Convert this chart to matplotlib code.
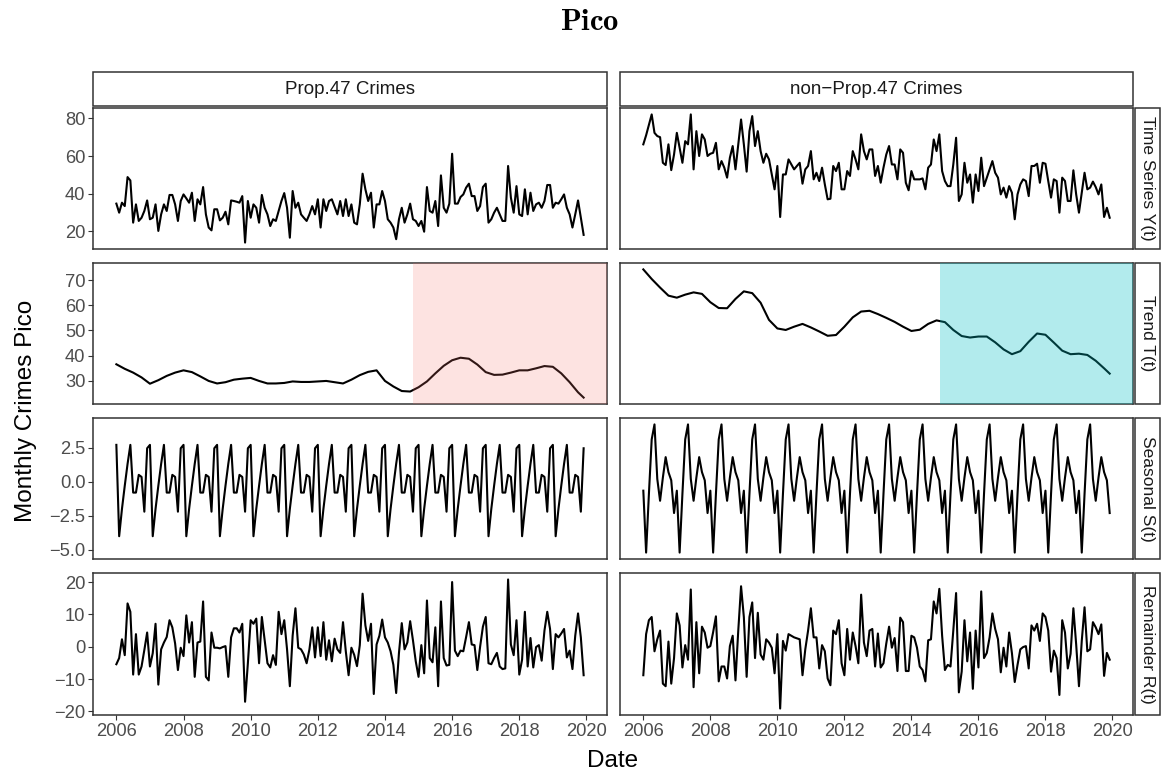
import numpy as np
import matplotlib
matplotlib.use("Agg")
import matplotlib.pyplot as plt
from matplotlib.patches import Rectangle
from matplotlib.ticker import FuncFormatter

plt.rcParams['font.family'] = ['Liberation Sans', 'DejaVu Sans']
plt.rcParams['mathtext.fontset'] = 'cm'

# ---------------- data ----------------
start_year = 2006
columns = ["Prop.47 Crimes", "non\u2212Prop.47 Crimes"]
rows = ["Time Series Y(t)", "Trend T(t)", "Seasonal S(t)", "Remainder R(t)"]

p47_Y = [
    34.7, 29.9, 35.2, 33.4, 48.8, 47.0, 24.6, 34.3, 25.5, 27.2, 30.8, 36.4,
    26.4, 27.2, 34.3, 20.2, 29.0, 34.3, 30.8, 39.3, 39.3, 34.3, 25.5, 36.1,
    39.6, 37.5, 35.2, 40.5, 25.5, 37.0, 34.3, 43.5, 29.0, 22.0, 20.5, 31.7,
    31.7, 25.8, 27.2, 30.4, 23.7, 36.4, 36.1, 35.7, 35.2, 38.7, 14.0, 36.1,
    27.2, 34.3, 32.5, 24.6, 39.3, 32.5, 29.0, 22.8, 26.4, 25.5, 30.8, 36.1,
    40.3, 32.5, 16.6, 41.4, 32.5, 35.2, 29.0, 27.2, 25.5, 29.0, 33.4, 29.0,
    37.0, 22.0, 37.0, 30.8, 36.1, 37.0, 33.0, 29.0, 36.1, 28.1, 37.0, 28.1,
    34.3, 24.6, 23.7, 34.3, 50.6, 42.3, 36.1, 40.5, 22.0, 34.3, 34.3, 41.4,
    36.1, 26.4, 24.6, 22.0, 15.8, 26.4, 32.5, 24.6, 29.0, 34.7, 26.4, 25.5,
    22.8, 25.5, 19.8, 43.5, 30.8, 29.9, 36.1, 22.8, 49.7, 32.5, 29.9, 34.7,
    61.2, 34.7, 34.7, 38.2, 39.6, 43.2, 45.3, 38.7, 38.7, 30.8, 33.4, 43.5,
    45.3, 24.6, 26.4, 29.9, 32.5, 29.0, 25.5, 25.5, 54.7, 37.9, 29.9, 44.0,
    29.0, 28.1, 42.3, 29.0, 40.5, 30.8, 34.3, 35.2, 32.5, 36.1, 44.6, 44.6,
    32.5, 35.2, 34.7, 37.0, 39.6, 32.5, 29.0, 22.0, 29.0, 36.4, 27.2, 18.1,
]
non_Y = [
    66.2, 71.0, 76.5, 82.1, 72.3, 70.6, 70.0, 56.4, 55.2, 66.2, 52.5, 60.8,
    72.3, 64.4, 56.4, 67.9, 66.2, 82.1, 52.9, 73.2, 60.0, 71.5, 68.8, 60.0,
    61.2, 61.7, 67.0, 52.9, 57.3, 53.8, 48.5, 59.1, 65.3, 52.9, 66.2, 79.4,
    66.2, 51.7, 73.2, 81.2, 65.3, 73.2, 62.6, 56.4, 61.2, 58.2, 50.2, 42.3,
    54.7, 27.6, 50.2, 50.2, 58.2, 55.5, 52.9, 54.7, 56.4, 45.3, 52.9, 54.7,
    62.6, 47.6, 51.1, 46.7, 53.8, 44.9, 37.0, 37.3, 54.7, 52.0, 56.4, 42.3,
    42.3, 52.0, 49.4, 62.6, 58.2, 52.9, 71.5, 62.6, 58.2, 63.5, 63.5, 49.4,
    54.7, 45.8, 53.8, 60.8, 65.3, 55.5, 55.5, 47.6, 63.5, 61.7, 45.8, 41.8,
    52.0, 47.6, 47.6, 47.6, 48.1, 42.3, 53.8, 55.5, 68.8, 62.6, 71.5, 52.0,
    46.7, 44.0, 44.0, 55.5, 69.7, 36.1, 39.6, 56.4, 45.8, 50.2, 35.2, 50.2,
    41.4, 59.1, 44.0, 48.5, 52.9, 57.3, 51.1, 48.5, 39.6, 43.2, 37.9, 44.0,
    40.5, 26.4, 39.6, 44.9, 47.6, 46.7, 38.7, 54.7, 54.7, 55.9, 45.8, 56.4,
    55.9, 46.7, 37.9, 47.6, 46.7, 29.9, 48.5, 46.7, 36.1, 36.1, 52.4, 39.6,
    29.9, 40.5, 51.1, 42.3, 43.2, 46.4, 43.5, 39.6, 44.9, 27.6, 32.5, 27.2,
]

# trend read every quarter (month index from Jan 2006)
trend_months = [0, 3, 6, 9, 12, 15, 18, 21, 24, 27, 30, 33, 36, 39, 42, 45, 48, 51,
                54, 57, 60, 63, 66, 69, 72, 75, 78, 81, 84, 87, 90, 93, 96, 99,
                102, 105, 108, 111, 114, 117, 120, 123, 126, 129, 132, 135, 138,
                141, 144, 147, 150, 153, 156, 159, 162, 165, 167]
p47_T = [36.6, 34.8, 33.3, 31.4, 28.9, 30.3, 32.0, 33.3, 34.2, 33.5, 31.8, 30.0,
         29.0, 29.5, 30.5, 30.9, 31.2, 30.0, 29.0, 29.0, 29.2, 29.8, 29.6, 29.6,
         29.8, 30.0, 29.5, 29.0, 30.5, 32.3, 33.6, 34.2, 30.0, 27.8, 26.0, 25.8,
         27.5, 29.8, 33.0, 36.0, 38.2, 39.2, 38.8, 36.5, 33.5, 32.4, 32.5, 33.3,
         34.2, 34.2, 35.0, 35.9, 35.6, 33.0, 29.5, 25.5, 23.4]
non_T = [74.2, 70.4, 67.0, 63.8, 63.0, 64.2, 65.1, 64.5, 61.2, 58.9, 58.8, 62.5,
         65.5, 64.8, 61.0, 54.2, 50.8, 50.2, 51.5, 52.6, 51.2, 49.6, 47.9, 48.2,
         51.5, 55.2, 57.5, 57.8, 56.5, 55.0, 53.4, 51.5, 49.8, 50.3, 52.6, 54.0,
         53.3, 50.2, 47.8, 47.2, 47.6, 47.6, 45.3, 42.5, 40.6, 41.8, 45.5, 48.8,
         48.3, 45.2, 42.0, 40.6, 40.8, 40.3, 38.0, 35.0, 32.9]

# seasonal component, Jan..Dec (identical every year)
p47_S_month = [2.7, -4.0, -2.0, -0.3, 1.3, 2.7, -0.8, -0.8, 0.5, 0.35, -2.2, 2.45]
non_S_month = [-0.66, -5.2, -0.9, 3.1, 4.2, 0.2, -1.4, 0.3, 1.8, 0.7, 0.1, -2.3]

p47_R = [
    -5.4, -3.5, 2.3, -2.6, 13.4, 10.8, -8.6, 3.9, -8.6, -6.1, -1.0, 4.4,
    -6.1, -2.0, 7.1, -11.7, -0.8, 1.3, 3.0, 8.2, 6.0, 1.0, -7.2, -0.3,
    -2.9, 9.7, 1.3, 7.6, -9.3, 1.3, 1.6, 14.0, -9.3, -10.4, 4.4, -0.3,
    -0.3, -0.5, -0.1, 0.2, -9.3, 2.9, 5.7, 5.7, 4.4, 7.1, -17.0, -5.1,
    8.2, 7.1, 8.7, -5.1, 9.2, 2.0, -5.1, -6.4, -2.6, -5.6, 10.8, 3.9,
    8.2, -0.8, -12.2, 3.4, 11.9, -0.3, -0.8, -2.4, -5.1, -0.8, 6.0, -3.3,
    6.0, -2.9, 7.6, -4.0, 2.0, -4.5, 2.5, -0.8, -1.9, 7.6, -1.4, -8.8,
    -0.3, -2.5, -6.0, 0.5, 16.4, 6.6, 1.8, 7.1, -14.6, 0.7, 3.4, 8.4,
    2.9, 1.3, -1.4, -5.6, -14.3, -1.9, 7.3, -0.8, 1.3, 7.9, 2.0, -4.5,
    -9.3, 0.5, -8.2, 14.3, -3.5, -4.8, 6.0, -12.2, 14.0, -3.5, -5.8, -5.6,
    20.0, -1.2, -2.9, -1.2, -1.4, 3.0, 7.6, 0.7, 0.5, -7.2, 0.0, 6.2,
    9.2, -5.1, -5.4, -3.5, -1.9, -6.1, -6.9, -6.7, 20.8, 0.7, -2.6, 8.2,
    -8.6, -4.0, 10.8, -6.1, 2.7, -6.4, -0.1, 0.5, -4.3, 5.0, 10.8, 5.5,
    -6.9, 3.9, 2.9, 4.1, 5.5, -3.3, -1.2, -6.9, 3.4, 10.3, 2.9, -8.8,
]
non_R = [
    -8.8, 3.9, 8.2, 9.2, -1.4, 2.3, 5.0, -11.4, -12.2, 1.6, -11.4, -3.5,
    10.3, 6.6, -6.4, 0.5, -4.0, 17.7, -12.5, 7.6, -8.2, 6.2, 4.4, -0.3,
    0.2, 4.5, 9.4, -10.7, -6.1, -6.1, -9.8, 0.2, 3.4, -10.4, 5.0, 18.7,
    9.2, -9.3, 9.2, 13.7, -3.5, 10.5, -2.4, -4.0, 2.3, 1.3, -0.3, -8.2,
    3.9, -19.1, 1.8, -1.2, 3.9, 3.4, 2.9, 2.6, 2.3, -8.8, -0.8, 5.0,
    11.9, 2.9, 2.9, -6.7, 0.5, -1.4, -9.8, -11.9, 5.0, 3.9, 8.2, -5.1,
    -8.8, 5.5, -4.0, 4.4, 0.2, -5.1, 16.1, 1.3, -2.9, 5.0, 5.5, -6.1,
    4.1, -6.4, -5.1, 1.0, 6.2, -0.3, 2.7, -7.5, 9.0, 7.6, -7.5, -7.5,
    3.4, 2.9, -0.3, -6.1, -7.2, -10.7, 2.0, 2.3, 14.0, 10.3, 17.9, 3.4,
    -7.2, -5.6, -6.1, 5.0, 16.6, -14.1, -7.7, 8.2, -4.5, 4.4, -13.0, 5.0,
    -6.4, 17.1, -3.5, -1.9, 2.9, 10.3, 5.5, 2.3, -7.9, -0.3, -6.1, 4.4,
    -2.0, -10.9, -5.6, -0.8, -0.1, 0.2, -6.7, 6.6, 5.0, 7.1, 1.8, 10.3,
    9.2, 5.0, -7.7, -1.2, -3.5, -14.9, 8.2, 4.4, -6.7, -2.2, 11.9, 0.7,
    -12.2, 1.8, 12.2, -1.4, -0.8, 7.6, 6.0, 3.9, 6.9, -9.0, -1.9, -4.0,
]

prop47_date = 2014 + 10 / 12 + 5 / 365   # Nov 5, 2014
x_ticks = [2006, 2008, 2010, 2012, 2014, 2016, 2018, 2020]
y_ticks = [[20, 40, 60, 80], [30, 40, 50, 60, 70], [-5.0, -2.5, 0.0, 2.5],
           [-20, -10, 0, 10, 20]]

# ---------------- build series ----------------
n = len(p47_Y)
t_month = start_year + np.arange(n) / 12.0
t_trend = start_year + np.array(trend_months) / 12.0
n_years = n // 12
series = {
    (0, 0): (t_month, p47_Y), (0, 1): (t_month, non_Y),
    (1, 0): (t_trend, p47_T), (1, 1): (t_trend, non_T),
    (2, 0): (t_month, np.tile(p47_S_month, n_years)),
    (2, 1): (t_month, np.tile(non_S_month, n_years)),
    (3, 0): (t_month, p47_R), (3, 1): (t_month, non_R),
}
shade = [("#F8766D", 0.2), ("#00BFC4", 0.3)]

# ---------------- figure ----------------
W, H = 1167, 776
fig = plt.figure(figsize=(W / 100, H / 100), dpi=100)

col_x = [(93, 607), (620, 1133)]
row_y = [(108, 249), (263, 404), (418, 559), (573, 715)]


def frac(x0, y0, x1, y1):
    return [x0 / W, 1 - y1 / H, (x1 - x0) / W, (y1 - y0) / H]


xpad = 0.05 * (t_month[-1] - t_month[0])
xlim = (t_month[0] - xpad, t_month[-1] + xpad)
border = "#333333"
minus_fmt = FuncFormatter(lambda v, p: ("%.1f" % v).replace("-", "\u2212"))

axes = {}
for r in range(4):
    for c in range(2):
        sharey = axes.get((r, 0)) if c == 1 else None
        ax = fig.add_axes(frac(col_x[c][0], row_y[r][0], col_x[c][1], row_y[r][1]),
                          sharey=sharey)
        axes[(r, c)] = ax
        xs, ys = series[(r, c)]
        ax.plot(xs, ys, color="black", lw=1.5, solid_joinstyle="round", zorder=2)
        if r == 1:
            ax.axvspan(prop47_date, xlim[1], color=shade[c][0], alpha=shade[c][1],
                       lw=0, zorder=3)
        ax.set_xlim(*xlim)
        ax.margins(y=0.05)
        ax.set_xticks(x_ticks)
        ax.set_yticks(y_ticks[r])
        for s in ax.spines.values():
            s.set_color(border)
            s.set_linewidth(1.1)
        ax.tick_params(direction="out", length=3.5, width=0.8, color=border,
                       labelcolor="#4D4D4D", labelsize=13.2, pad=2)
        if r != 3:
            ax.tick_params(axis="x", which="both", bottom=False, labelbottom=False)
        if c == 1:
            ax.tick_params(axis="y", which="both", left=False, labelleft=False)
        if r == 2:
            ax.yaxis.set_major_formatter(minus_fmt)

# strips (top)
for c in range(2):
    x0, x1 = col_x[c]
    fig.patches.append(Rectangle((x0 / W, 1 - 106 / H), (x1 - x0) / W, 34 / H,
                                 transform=fig.transFigure, facecolor="white",
                                 edgecolor=border, lw=1.1))
    fig.text((x0 + x1) / 2 / W, 1 - 89 / H, columns[c], ha="center", va="center",
             fontsize=13.5, color="#1A1A1A")
# strips (right)
for r in range(4):
    y0, y1 = row_y[r]
    fig.patches.append(Rectangle((1135 / W, 1 - y1 / H), 25 / W, (y1 - y0) / H,
                                 transform=fig.transFigure, facecolor="white",
                                 edgecolor=border, lw=1.1))
    fig.text(1148 / W, 1 - (y0 + y1) / 2 / H, rows[r], ha="center", va="center",
             rotation=-90, fontsize=12.5, color="#1A1A1A")

fig.text(590 / W, 1 - 22 / H, r"$\mathbf{Pico}$", ha="center", va="center", fontsize=22)
fig.text(26 / W, 1 - 411 / H, "Monthly Crimes Pico", ha="center", va="center",
         rotation=90, fontsize=17.5)
fig.text(613 / W, 1 - 761 / H, "Date", ha="center", va="center", fontsize=17.5)

fig.savefig("out.png", dpi=100)
